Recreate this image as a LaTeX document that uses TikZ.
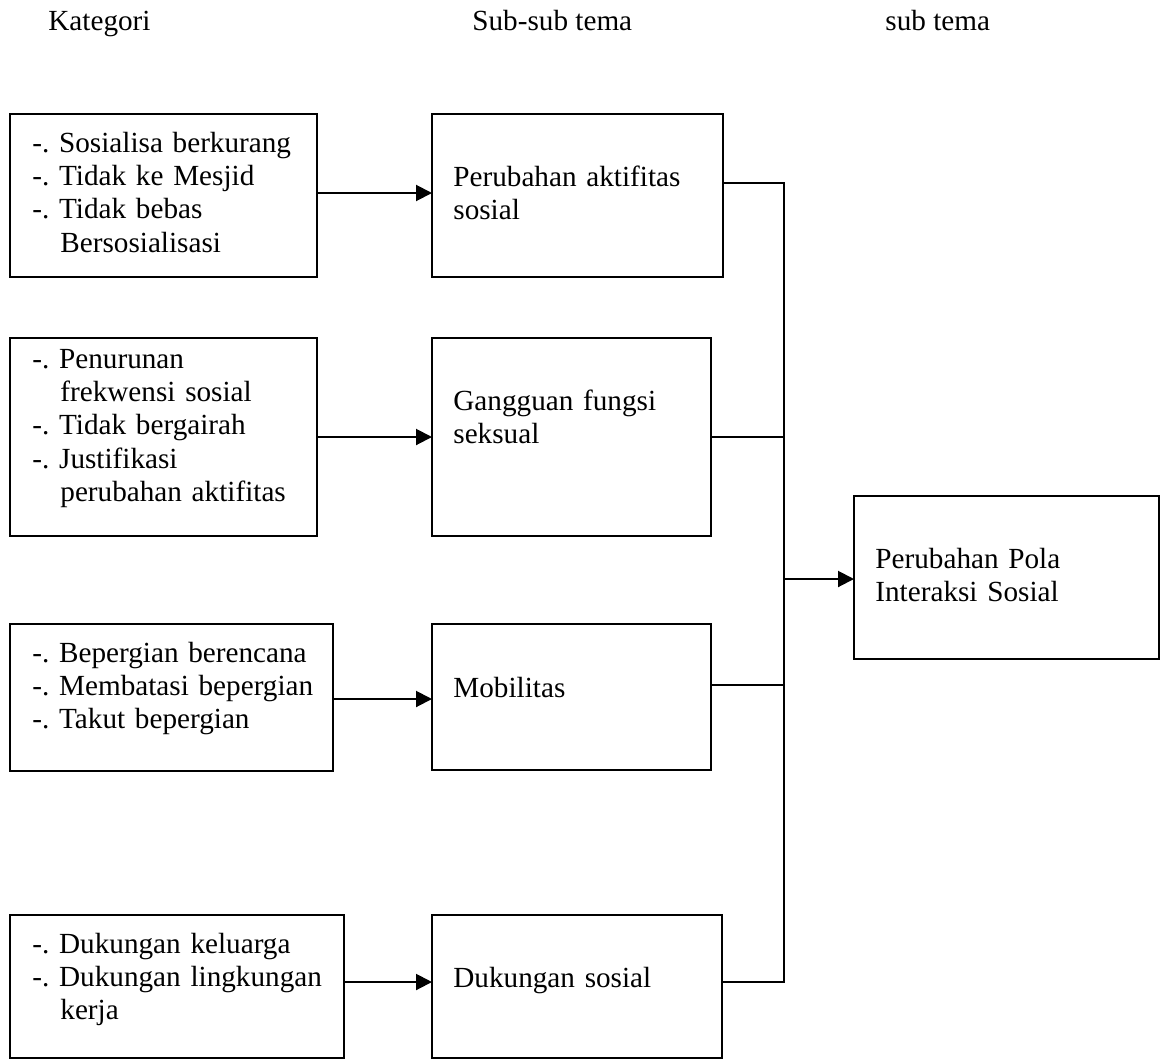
\documentclass[tikz,border=0pt]{standalone}
\usepackage{fontspec}
\setmainfont{Liberation Serif}
\usetikzlibrary{arrows.meta}
\begin{document}
\begin{tikzpicture}[x=0.5pt,y=-0.5pt,
  box/.style={draw, rectangle, line width=1.1pt, inner sep=0pt, outer sep=0pt, anchor=north west},
  txt/.style={anchor=base west, inner sep=0pt, text width=200pt, align=left,
              font=\fontsize{14.6}{16.7}\selectfont\frenchspacing},
  head/.style={anchor=base west, inner sep=0pt, font=\fontsize{14.6}{16.7}\selectfont},
  arr/.style={line width=1pt, -{Triangle[length=8pt,width=8pt]}},
  wire/.style={line width=1pt}]
\useasboundingbox (0,0) rectangle (1160,1060);

% column headings
\node[head] (h1) at (48,31)  {Kategori};
\node[head] (h2) at (472,31) {Sub-sub tema};
\node[head] (h3) at (885,31) {sub tema};

% category boxes
\node[box, minimum width=153.5pt, minimum height=81.5pt] (A1) at (10,114) {};
\node[box, minimum width=153.5pt, minimum height=99pt]   (A2) at (10,338) {};
\node[box, minimum width=161.5pt, minimum height=73.5pt] (A3) at (10,624) {};
\node[box, minimum width=167pt,   minimum height=71.5pt] (A4) at (10,915) {};

\node[txt] (tA1) at (32,152) {-. Sosialisa berkurang\\-. Tidak ke Mesjid\\-. Tidak bebas\\\hspace*{14pt}Bersosialisasi};
\node[txt] (tA2) at (32,368) {-. Penurunan\\\hspace*{14pt}frekwensi sosial\\-. Tidak bergairah\\-. Justifikasi\\\hspace*{14pt}perubahan aktifitas};
\node[txt] (tA3) at (32,662) {-. Bepergian berencana\\-. Membatasi bepergian\\-. Takut bepergian};
\node[txt] (tA4) at (32,953) {-. Dukungan keluarga\\-. Dukungan lingkungan\\\hspace*{14pt}kerja};

% sub-sub theme boxes
\node[box, minimum width=145.5pt, minimum height=81.5pt] (B1) at (432,114) {};
\node[box, minimum width=139.5pt, minimum height=99pt]   (B2) at (432,338) {};
\node[box, minimum width=139.5pt, minimum height=73pt]   (B3) at (432,624) {};
\node[box, minimum width=145pt,   minimum height=71.5pt] (B4) at (432,915) {};

\node[txt] (tB1) at (453,186) {Perubahan aktifitas\\sosial};
\node[txt] (tB2) at (453,410) {Gangguan fungsi\\seksual};
\node[txt] (tB3) at (453,697) {Mobilitas};
\node[txt] (tB4) at (453,987) {Dukungan sosial};

% sub theme box
\node[box, minimum width=152.5pt, minimum height=81.5pt] (C) at (854,496) {};
\node[txt] (tC) at (875,568) {Perubahan Pola\\Interaksi Sosial};

% arrows from categories to sub-sub themes
\draw[arr] (A1.east |- 0,193) -- (B1.west |- 0,193);
\draw[arr] (A2.east |- 0,437) -- (B2.west |- 0,437);
\draw[arr] (A3.east |- 0,699) -- (B3.west |- 0,699);
\draw[arr] (A4.east |- 0,982) -- (B4.west |- 0,982);

% collecting bus
\coordinate (bt) at (784,183);
\coordinate (bb) at (784,982);
\draw[wire] (B1.east |- bt) -- (bt) -- (bb) -- (B4.east |- bb);
\draw[wire] (B2.east |- 0,437) -- (784,437);
\draw[wire] (B3.east |- 0,685) -- (784,685);
\draw[arr] (784,579) -- (C.west |- 0,579);
\end{tikzpicture}
\end{document}
